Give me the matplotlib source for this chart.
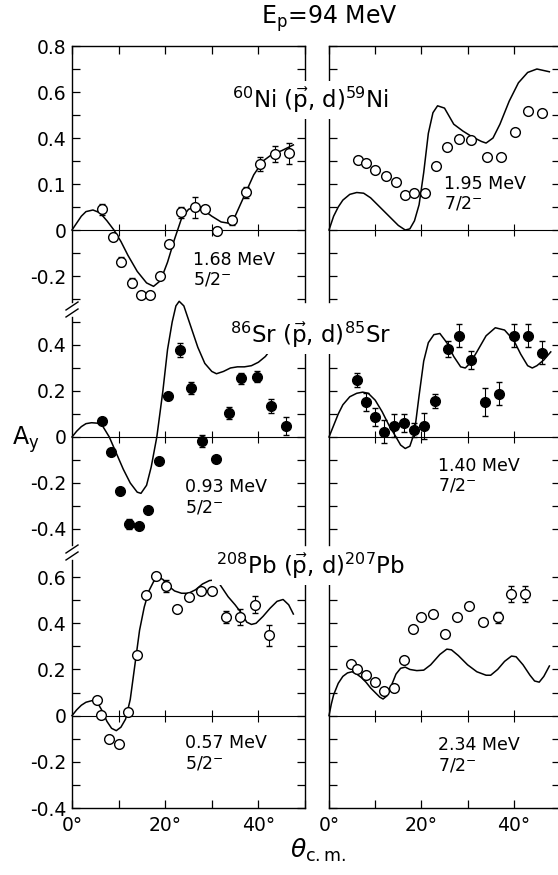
import matplotlib
matplotlib.use("Agg")
import matplotlib.pyplot as plt
from matplotlib.lines import Line2D
from matplotlib.ticker import MultipleLocator, FixedLocator, FixedFormatter

# 60Ni(p,d)59Ni, 1.68 MeV 5/2-
NI_L_DEG = [6.4, 8.7, 10.5, 12.8, 14.8, 16.8, 18.9, 20.9, 23.4, 26.3, 28.6, 31.2, 34.3, 37.4, 40.4, 43.5, 46.6]
NI_L_AY = [0.09, -0.032, -0.138, -0.229, -0.283, -0.283, -0.2, -0.061, 0.077, 0.099, 0.091, -0.003, 0.043,
           0.164, 0.287, 0.33, 0.333]
NI_L_ERR = [0.025, 0, 0.02, 0.02, 0, 0, 0, 0.015, 0.025, 0.045, 0, 0, 0.02, 0.025, 0.03, 0.035, 0.045]
NI_L_FIT_DEG = [0, 1, 2, 3, 4.5, 6, 7.5, 9, 10.5, 12, 14, 16, 17.5, 19, 20.5, 22, 23.5, 25, 26.5, 28, 30, 32,
                33.5, 35, 37, 39, 41, 43, 45, 47.5]
NI_L_FIT_AY = [0, 0.03, 0.06, 0.08, 0.087, 0.075, 0.04, 0.0, -0.05, -0.11, -0.18, -0.23, -0.245, -0.22, -0.14,
               -0.04, 0.05, 0.09, 0.1, 0.09, 0.06, 0.035, 0.03, 0.06, 0.15, 0.24, 0.3, 0.33, 0.345, 0.37]

# 60Ni(p,d)59Ni, 1.95 MeV 7/2-
NI_R_DEG = [6.2, 8.0, 9.9, 12.4, 14.6, 16.4, 18.5, 20.7, 23.1, 25.6, 28.1, 30.7, 34.1, 37.2, 40.2, 43.0, 46.1]
NI_R_AY = [0.304, 0.29, 0.261, 0.236, 0.21, 0.152, 0.162, 0.162, 0.278, 0.36, 0.397, 0.391, 0.319, 0.319,
           0.428, 0.519, 0.507]
NI_R_FIT_DEG = [0, 1, 2, 3, 4.5, 6, 7.5, 9, 11, 13, 15, 16.5, 17.5, 18.5, 19.5, 20.5, 21.5, 22.5, 23.5, 25, 27,
                29, 31, 33, 34, 35.5, 37, 39, 41, 43, 45, 47.7]
NI_R_FIT_AY = [0, 0.06, 0.1, 0.13, 0.155, 0.163, 0.16, 0.14, 0.1, 0.06, 0.02, 0.0, 0.005, 0.04, 0.11, 0.25,
               0.42, 0.51, 0.54, 0.53, 0.46, 0.43, 0.405, 0.385, 0.378, 0.4, 0.46, 0.56, 0.64, 0.685, 0.7, 0.688]

# 86Sr(p,d)85Sr, 0.93 MeV 5/2-
SR_L_DEG = [6.5, 8.3, 10.2, 12.3, 14.3, 16.3, 18.6, 20.6, 23.2, 25.6, 28.0, 30.8, 33.6, 36.3, 39.6, 42.8, 46.0]
SR_L_AY = [0.071, -0.064, -0.233, -0.378, -0.387, -0.317, -0.103, 0.178, 0.378, 0.214, -0.017, -0.097, 0.105,
           0.255, 0.262, 0.135, 0.048]
SR_L_ERR = [0, 0, 0, 0.02, 0, 0, 0, 0, 0.03, 0.025, 0.025, 0, 0.025, 0.025, 0.025, 0.03, 0.04]
SR_L_FIT_DEG = [0, 1, 2, 3, 4.2, 5.5, 6.5, 8, 9.5, 11, 12.5, 14, 14.8, 16, 17, 18.2, 19.5, 20.5, 21.5, 22.3, 23,
                24, 25.5, 27, 28.5, 30, 31, 32.5, 34, 35.5, 37, 38.5, 40, 41.5, 43]
SR_L_FIT_AY = [0, 0.025, 0.045, 0.058, 0.062, 0.06, 0.05, 0.0, -0.07, -0.14, -0.2, -0.24, -0.245, -0.21, -0.13,
               0.0, 0.2, 0.38, 0.5, 0.57, 0.59, 0.57, 0.48, 0.39, 0.32, 0.285, 0.275, 0.285, 0.3, 0.305, 0.305,
               0.31, 0.325, 0.35, 0.39]

# 86Sr(p,d)85Sr, 1.40 MeV 7/2-
SR_R_DEG = [6.0, 8.0, 10.0, 12.0, 14.0, 16.2, 18.5, 20.5, 22.9, 25.8, 28.1, 30.7, 33.7, 36.8, 40.1, 43.1, 46.0]
SR_R_AY = [0.248, 0.151, 0.088, 0.023, 0.048, 0.06, 0.03, 0.048, 0.157, 0.383, 0.44, 0.335, 0.153, 0.187, 0.44,
           0.44, 0.366]
SR_R_ERR = [0.03, 0.04, 0.04, 0.05, 0.05, 0.04, 0.03, 0.055, 0.03, 0.035, 0.05, 0.04, 0.06, 0.05, 0.05, 0.05,
            0.05]
SR_R_FIT_DEG = [0, 1, 2, 3, 4.5, 6, 7.3, 8.5, 10, 11.5, 13, 14.5, 15.5, 16.5, 17.5, 18.5, 19.5, 20.5, 21.5, 22.7,
                24, 25.5, 27, 28.5, 29.5, 30.5, 32, 34, 36, 38, 40, 41.5, 43, 44, 45, 46.5, 48]
SR_R_FIT_AY = [0, 0.05, 0.1, 0.14, 0.175, 0.19, 0.195, 0.19, 0.16, 0.11, 0.05, 0.0, -0.035, -0.05, -0.04, 0.02,
               0.18, 0.33, 0.41, 0.445, 0.45, 0.41, 0.35, 0.305, 0.3, 0.32, 0.37, 0.44, 0.475, 0.465, 0.42, 0.36,
               0.31, 0.3, 0.31, 0.335, 0.37]

# 208Pb(p,d)207Pb, 0.57 MeV 5/2-
PB_L_DEG = [5.3, 6.2, 8.0, 10.1, 12.0, 14.0, 15.9, 18.1, 20.1, 22.6, 25.0, 27.7, 30.0, 33.1, 36.1, 39.2, 42.2]
PB_L_AY = [0.068, 0.003, -0.101, -0.123, 0.017, 0.261, 0.522, 0.604, 0.561, 0.461, 0.512, 0.54, 0.54, 0.427,
           0.427, 0.481, 0.348]
PB_L_ERR = [0, 0, 0, 0, 0, 0, 0, 0, 0.025, 0, 0, 0, 0, 0.025, 0.035, 0.035, 0.045]
PB_L_FIT_DEG = [0, 1, 2, 3, 4.3, 5.5, 6.5, 7.5, 8.5, 9.5, 10.5, 11.5, 12.5, 13.5, 14.5, 15.5, 16.5, 17.5, 18.5,
                19.5, 20.5, 22, 23.5, 25, 26.5, 28, 29.5, 30.5, 31.5, 32.5, 33.5, 35, 36.5, 37.5, 38.5, 39.5, 41,
                42.5, 44, 45.3, 46.5, 47.5]
PB_L_FIT_AY = [0, 0.025, 0.045, 0.058, 0.065, 0.055, 0.02, -0.025, -0.055, -0.065, -0.05, -0.015, 0.07, 0.22,
               0.37, 0.47, 0.54, 0.58, 0.6, 0.59, 0.565, 0.54, 0.53, 0.53, 0.545, 0.57, 0.585, 0.587, 0.575, 0.545,
               0.515, 0.48, 0.44, 0.405, 0.395, 0.4, 0.43, 0.465, 0.495, 0.503, 0.48, 0.44]

# 208Pb(p,d)207Pb, 2.34 MeV 7/2-
PB_R_DEG = [4.8, 6.0, 8.0, 10.0, 12.0, 14.0, 16.2, 18.1, 20.0, 22.5, 25.1, 27.8, 30.3, 33.3, 36.5, 39.3, 42.5]
PB_R_AY = [0.225, 0.203, 0.178, 0.145, 0.106, 0.119, 0.239, 0.377, 0.428, 0.438, 0.355, 0.428, 0.475, 0.406,
           0.425, 0.525, 0.525]
PB_R_ERR = [0, 0, 0, 0, 0, 0, 0, 0, 0, 0, 0, 0, 0, 0, 0.025, 0.035, 0.035]
PB_R_FIT_DEG = [0, 0.5, 1, 2, 3, 4, 5, 6, 7, 8, 9, 10, 11, 11.7, 12.5, 13.5, 14.5, 15.5, 16.5, 17.5, 19, 20.5,
                22, 24, 25.5, 26.5, 28, 30, 32, 34, 35, 36.5, 38, 39.5, 40.5, 42, 43.5, 44.5, 45.5, 46.5, 47.7]
PB_R_FIT_AY = [0, 0.05, 0.09, 0.14, 0.17, 0.185, 0.19, 0.18, 0.165, 0.145, 0.12, 0.1, 0.08, 0.072, 0.085, 0.13,
               0.18, 0.205, 0.21, 0.2, 0.195, 0.197, 0.22, 0.265, 0.288, 0.285, 0.26, 0.22, 0.19, 0.175, 0.175,
               0.2, 0.235, 0.258, 0.255, 0.22, 0.175, 0.15, 0.145, 0.17, 0.215]

STATES = ["1.68 MeV\n5/2$^{-}$", "1.95 MeV\n7/2$^{-}$", "0.93 MeV\n5/2$^{-}$",
          "1.40 MeV\n7/2$^{-}$", "0.57 MeV\n5/2$^{-}$", "2.34 MeV\n7/2$^{-}$"]
REACTIONS = [r"$^{60}$Ni ($\vec{\mathrm{p}}$, d)$^{59}$Ni",
             r"$^{86}$Sr ($\vec{\mathrm{p}}$, d)$^{85}$Sr",
             r"$^{208}$Pb ($\vec{\mathrm{p}}$, d)$^{207}$Pb"]

TOP_TICKS = [-0.2, 0, 0.2, 0.4, 0.6, 0.8]
TOP_LABELS = ["-0.2", "0", "0.1", "0.4", "0.6", "0.8"]
MID_TICKS = [-0.4, -0.2, 0, 0.2, 0.4]
MID_LABELS = ["-0.4", "-0.2", "0", "0.2", "0.4"]
BOT_TICKS = [-0.4, -0.2, 0, 0.2, 0.4, 0.6]
BOT_LABELS = ["-0.4", "-0.2", "0", "0.2", "0.4", "0.6"]
X_LABELS = ["0°", "20°", "40°"]

W, H = 558, 875
fig = plt.figure(figsize=(W / 100, H / 100), dpi=100)


def px_axes(x0, x1, y0, y1):
    return fig.add_axes([x0 / W, 1 - y1 / H, (x1 - x0) / W, (y1 - y0) / H])


def draw_panel(ax, deg, ay, err, fit_deg, fit_ay, filled, ylim, ticks, labels, state, state_xy,
               show_labels, top, bottom):
    ax.set_xlim(0, 50)
    ax.set_ylim(*ylim)
    ax.plot(fit_deg, fit_ay, color="black", lw=1.1, zorder=2, clip_on=False)
    ax.axhline(0, color="black", lw=0.8, zorder=1)
    ax.plot([10, 20, 30, 40], [0, 0, 0, 0], ls="none", marker="|", ms=9, mew=0.8, color="black", zorder=1)
    if err is None:
        err = [0] * len(deg)
    ax.errorbar(deg, ay, yerr=err, fmt="o", ms=7, mfc="black" if filled else "white", mec="black",
                mew=1.0, ecolor="black", elinewidth=0.8, capsize=2.5, capthick=0.8, zorder=3)
    ax.yaxis.set_major_locator(FixedLocator(ticks))
    ax.yaxis.set_major_formatter(FixedFormatter(labels))
    ax.yaxis.set_minor_locator(MultipleLocator(0.1))
    ax.xaxis.set_major_locator(FixedLocator([0, 20, 40]))
    ax.xaxis.set_major_formatter(FixedFormatter(X_LABELS))
    ax.xaxis.set_minor_locator(MultipleLocator(10))
    ax.tick_params(which="both", direction="in", length=6, width=0.9, left=True, right=True,
                   top=top, bottom=bottom, labelleft=show_labels, labelbottom=bottom,
                   labelsize=13.5, pad=4)
    ax.tick_params(axis="x", pad=6)
    for s in ax.spines.values():
        s.set_linewidth(1.0)
    ax.spines["top"].set_visible(top)
    ax.spines["bottom"].set_visible(bottom)
    # state label, anchored in data units (deg, A_y of the top of the text)
    ax.text(state_xy[0], state_xy[1], state, fontsize=12.5, ha="left", va="top", linespacing=1.15)
    ax.patch.set_alpha(0)


LX0, LX1 = 72, 305
RX0, RX1 = 329, 560
ROWS = [(46, 302, (-0.313, 0.8), TOP_TICKS, TOP_LABELS),
        (317, 545, (-0.4696, 0.5217), MID_TICKS, MID_LABELS),
        (560, 808, (-0.4, 0.674), BOT_TICKS, BOT_LABELS)]

panels = [
    (NI_L_DEG, NI_L_AY, NI_L_ERR, NI_L_FIT_DEG, NI_L_FIT_AY, False),
    (NI_R_DEG, NI_R_AY, None, NI_R_FIT_DEG, NI_R_FIT_AY, False),
    (SR_L_DEG, SR_L_AY, SR_L_ERR, SR_L_FIT_DEG, SR_L_FIT_AY, True),
    (SR_R_DEG, SR_R_AY, SR_R_ERR, SR_R_FIT_DEG, SR_R_FIT_AY, True),
    (PB_L_DEG, PB_L_AY, PB_L_ERR, PB_L_FIT_DEG, PB_L_FIT_AY, False),
    (PB_R_DEG, PB_R_AY, PB_R_ERR, PB_R_FIT_DEG, PB_R_FIT_AY, False),
]
# where the state label starts, in (deg, A_y)
STATE_POS = [(26.0, -0.09), (24.8, 0.24), (24.3, -0.18), (23.7, -0.085), (24.3, -0.08), (23.7, -0.09)]

for r, (y0, y1, ylim, ticks, labels) in enumerate(ROWS):
    for c in range(2):
        i = 2 * r + c
        ax = px_axes(LX0, LX1, y0, y1) if c == 0 else px_axes(RX0, RX1, y0, y1)
        deg, ay, err, fdeg, fay, filled = panels[i]
        draw_panel(ax, deg, ay, err, fdeg, fay, filled, ylim, ticks, labels, STATES[i], STATE_POS[i],
                   c == 0, r == 0, r == 2)

# reaction labels sit over the gap between the columns
for txt, yc in zip(REACTIONS, [100, 335, 566]):
    fig.text(311 / W, 1 - yc / H, txt, ha="center", va="center", fontsize=16.5,
             bbox=dict(facecolor="white", edgecolor="none", pad=3), zorder=10)

# axis break marks on the outer left spine
for yb in [306, 313, 549, 556]:
    fig.add_artist(Line2D([(LX0 - 6) / W, (LX0 + 6) / W], [1 - (yb + 4) / H, 1 - (yb - 4) / H],
                          color="black", lw=1.0))

fig.text(329 / W, 1 - 19 / H, r"E$_\mathrm{p}$=94 MeV", ha="center", va="center", fontsize=17)
fig.text(26 / W, 1 - 440 / H, r"A$_\mathrm{y}$", ha="center", va="center", fontsize=17)
fig.text(318 / W, 1 - 850 / H, r"$\theta_\mathrm{c.m.}$", ha="center", va="center", fontsize=18)

fig.savefig("out.png", dpi=100)
